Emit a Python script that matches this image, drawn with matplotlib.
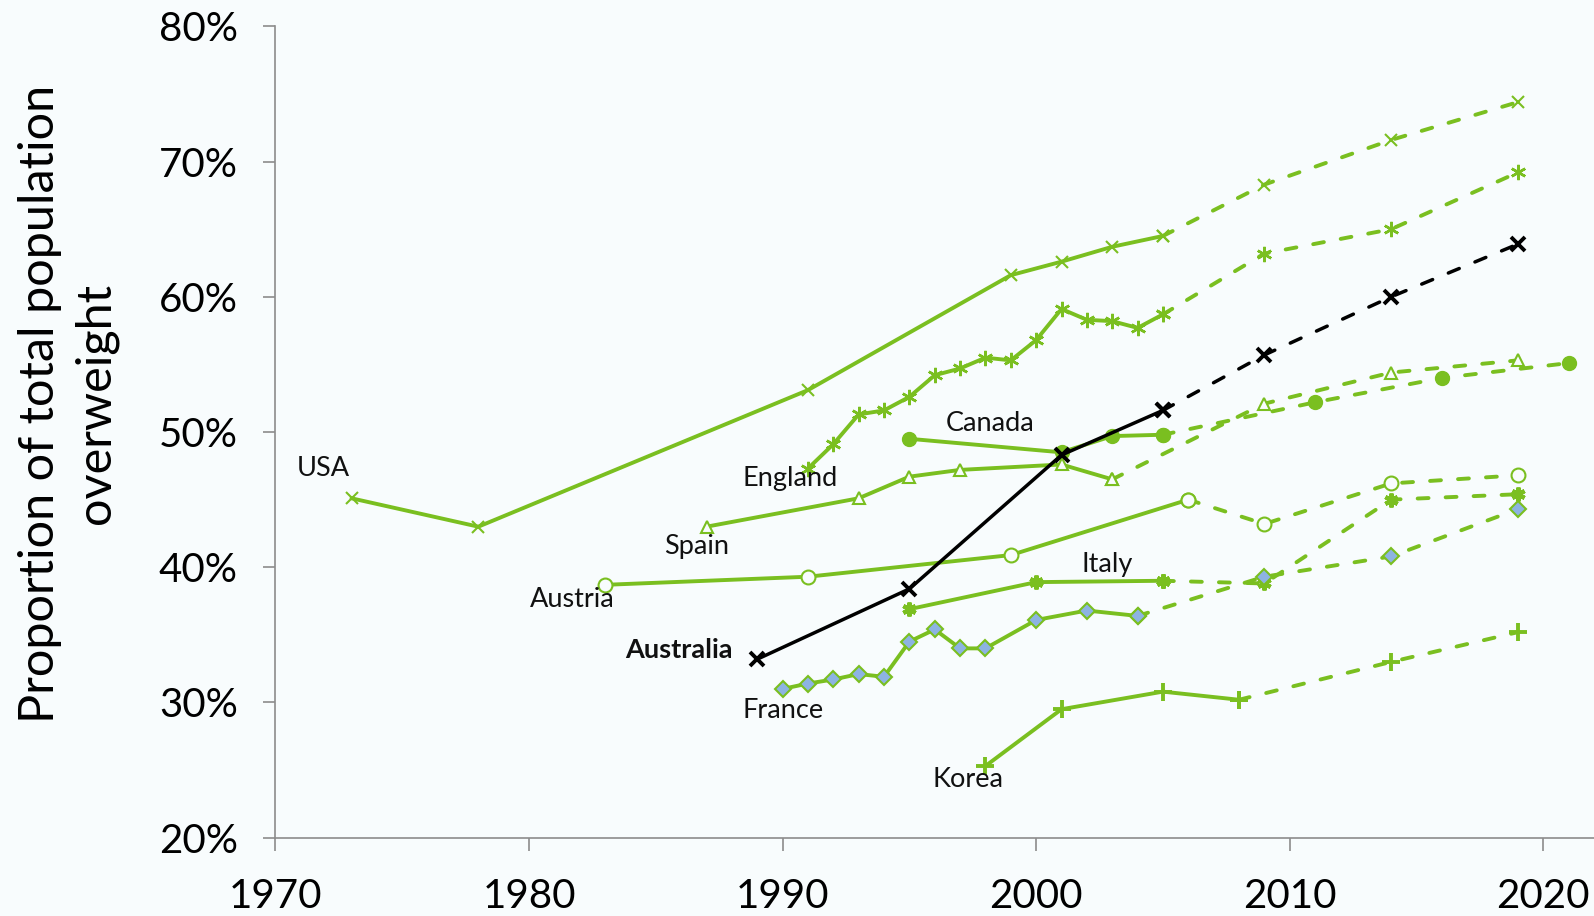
import numpy as np
import matplotlib.pyplot as plt

plt.rcParams['font.family'] = ['Lato', 'DejaVu Sans']

# Observed data (solid) and projections (dashed), % of population overweight
usa_yr = [1973, 1978, 1991, 1999, 2001, 2003, 2005]
usa_val = [45.1, 43.0, 53.1, 61.6, 62.6, 63.7, 64.5]
usa_proj_yr = [2009, 2014, 2019]
usa_proj_val = [68.3, 71.6, 74.4]

eng_yr = [1991, 1992, 1993, 1994, 1995, 1996, 1997, 1998, 1999, 2000, 2001, 2002, 2003, 2004, 2005]
eng_val = [47.3, 49.1, 51.3, 51.6, 52.6, 54.2, 54.7, 55.5, 55.3, 56.8, 59.1, 58.3, 58.2, 57.7, 58.7]
eng_proj_yr = [2009, 2014, 2019]
eng_proj_val = [63.2, 65.0, 69.2]

can_yr = [1995, 2001, 2003, 2005]
can_val = [49.5, 48.5, 49.7, 49.8]
can_proj_yr = [2011, 2016, 2021]
can_proj_val = [52.2, 54.0, 55.1]

spa_yr = [1987, 1993, 1995, 1997, 2001, 2003]
spa_val = [43.0, 45.1, 46.7, 47.2, 47.6, 46.5]
spa_proj_yr = [2009, 2014, 2019]
spa_proj_val = [52.1, 54.4, 55.3]

aut_yr = [1983, 1991, 1999, 2006]
aut_val = [38.7, 39.3, 40.9, 45.0]
aut_proj_yr = [2009, 2014, 2019]
aut_proj_val = [43.2, 46.2, 46.8]

ita_yr = [1995, 2000, 2005]
ita_val = [36.9, 38.9, 39.0]
ita_proj_yr = [2009, 2014, 2019]
ita_proj_val = [38.8, 45.0, 45.4]

fra_yr = [1990, 1991, 1992, 1993, 1994, 1995, 1996, 1997, 1998, 2000, 2002, 2004]
fra_val = [31.0, 31.4, 31.7, 32.1, 31.9, 34.5, 35.4, 34.0, 34.0, 36.1, 36.8, 36.4]
fra_proj_yr = [2009, 2014, 2019]
fra_proj_val = [39.3, 40.8, 44.3]

kor_yr = [1998, 2001, 2005, 2008]
kor_val = [25.3, 29.5, 30.8, 30.2]
kor_proj_yr = [2014, 2019]
kor_proj_val = [33.0, 35.2]

aus_yr = [1989, 1995, 2001, 2005]
aus_val = [33.2, 38.4, 48.3, 51.6]
aus_proj_yr = [2009, 2014, 2019]
aus_proj_val = [55.7, 60.0, 63.9]

labels = ['USA', 'England', 'Spain', 'Austria', 'Australia', 'France', 'Korea', 'Canada', 'Italy']
label_x = [1971.9, 1990.3, 1986.6, 1981.7, 1985.9, 1990.0, 1997.3, 1998.2, 2002.8]
label_y = [47.3, 46.6, 41.5, 37.6, 33.9, 29.4, 24.3, 50.6, 40.2]

green = '#7abf20'
bg = '#f8fcfd'

fig = plt.figure(figsize=(15.94, 9.16), dpi=100, facecolor=bg)
ax = fig.add_axes([0.1728, 0.0855, 0.8272, 0.8857], facecolor=bg)


def series(yr, val, pyr, pval, color, lw, z, dash, **mk):
    ax.plot(yr, val, color=color, lw=lw, zorder=z, solid_capstyle='round', **mk)
    ax.plot([yr[-1]] + pyr, [val[-1]] + pval, color=color, lw=lw, zorder=z,
            dashes=dash, dash_capstyle='round', **mk)


gd = (2.8, 4.4)  # green projection dash pattern
series(usa_yr, usa_val, usa_proj_yr, usa_proj_val, green, 2.8, 3, gd,
       marker='x', ms=9, mew=1.5)
series(eng_yr, eng_val, eng_proj_yr, eng_proj_val, green, 2.8, 3, gd,
       marker=(6, 2, 0), ms=11, mew=1.8)
series(can_yr, can_val, can_proj_yr, can_proj_val, green, 2.8, 3, gd,
       marker='o', ms=10)
series(spa_yr, spa_val, spa_proj_yr, spa_proj_val, green, 2.8, 3, gd,
       marker='^', ms=9, mew=1.5, mfc=bg)
series(aut_yr, aut_val, aut_proj_yr, aut_proj_val, green, 2.8, 3, gd,
       marker='o', ms=10, mew=1.5, mfc=bg)
series(ita_yr, ita_val, ita_proj_yr, ita_proj_val, green, 2.8, 3, gd,
       marker=(6, 2, 0), ms=10, mew=3)
series(fra_yr, fra_val, fra_proj_yr, fra_proj_val, green, 2.8, 3, gd,
       marker='D', ms=8, mew=1.5, mfc='#8db3e2')
series(kor_yr, kor_val, kor_proj_yr, kor_proj_val, green, 2.8, 3, gd,
       marker='+', ms=13, mew=2.8)
series(aus_yr, aus_val, aus_proj_yr, aus_proj_val, 'black', 2.5, 5, (3.4, 4.9),
       marker='x', ms=10, mew=2.8)

for lab, lx, ly in zip(labels, label_x, label_y):
    ax.text(lx, ly, lab, fontsize=19.5, ha='center', va='center', color='#111111',
            fontweight='bold' if lab == 'Australia' else 'normal', zorder=6)

ax.set_xlim(1970, 2022)
ax.set_ylim(20, 80)
yt = np.arange(20, 81, 10)
ax.set_yticks(yt)
ax.set_yticklabels([f'{v}%' for v in yt])
ax.set_xticks(np.arange(1970, 2021, 10))

for s in ['top', 'right']:
    ax.spines[s].set_visible(False)
for s in ['left', 'bottom']:
    ax.spines[s].set_color('#8c8c8c')
    ax.spines[s].set_linewidth(1.2)
ax.tick_params(axis='both', direction='out', length=9, width=1.2, color='#8c8c8c',
               labelsize=29, labelcolor='black')
ax.tick_params(axis='y', pad=18)
ax.tick_params(axis='x', pad=20)

fig.text(0.0427, 0.559, 'Proportion of total population\noverweight', rotation=90,
         ha='center', va='center', multialignment='center', fontsize=35, linespacing=1.3)

plt.savefig('out.png', dpi=100, facecolor=bg)
